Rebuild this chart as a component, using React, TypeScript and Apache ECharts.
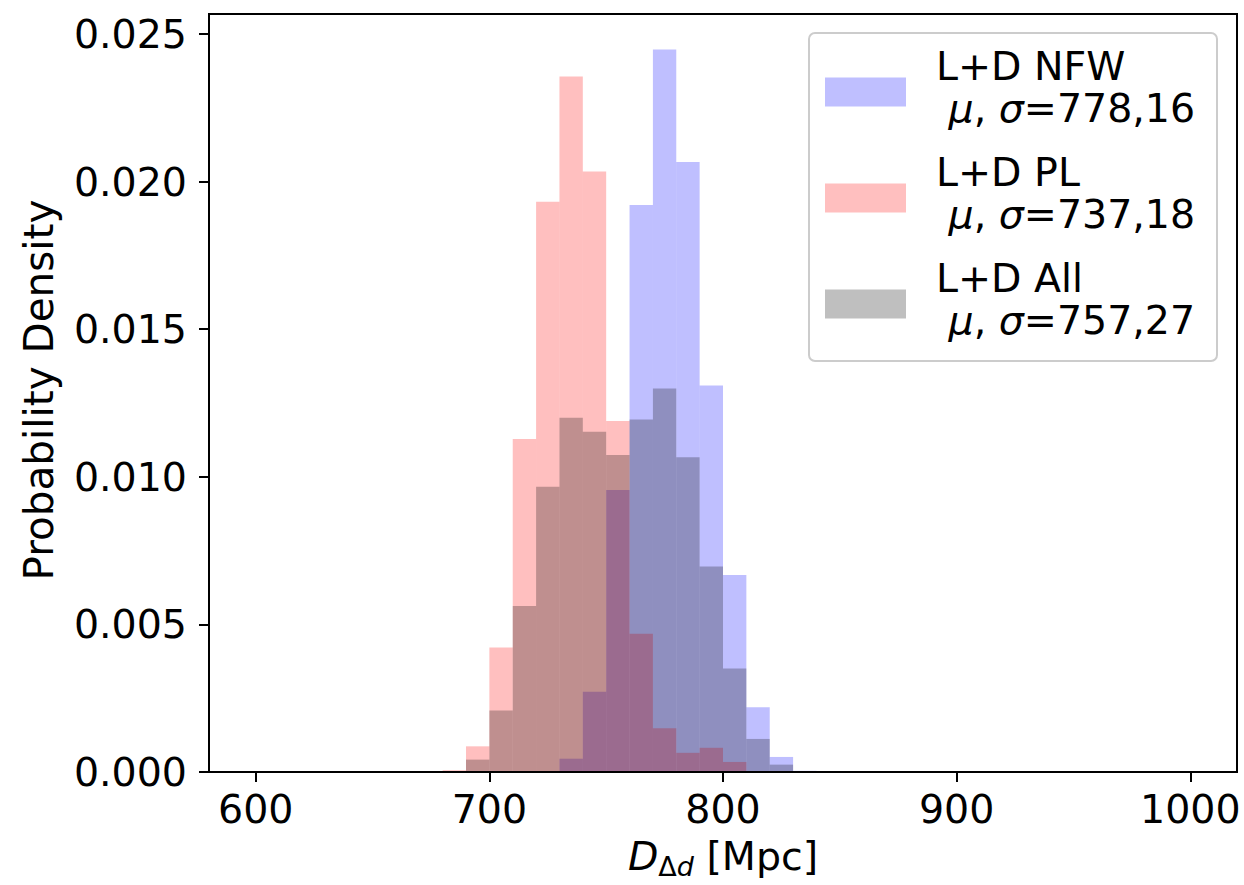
import React, { useEffect, useRef } from "react";
import * as echarts from "echarts";

// Histogram bin edges (Mpc) and normalised densities per model
const binEdges = [680, 690, 700, 710, 720, 730, 740, 750, 760, 770, 780, 790, 800, 810, 820, 830, 840];
const nfwDensity = [0, 0, 0, 0, 0, 0.00045, 0.00272, 0.00955, 0.01921, 0.02448, 0.02067, 0.01309, 0.00667, 0.00219, 0.00051, 0.00004];
const plDensity = [0.00006, 0.00087, 0.00422, 0.01128, 0.01932, 0.02356, 0.02034, 0.01189, 0.00468, 0.00148, 0.00065, 0.00082, 0.00034, 0, 0, 0];
const allDensity = [0.00003, 0.00042, 0.00208, 0.00562, 0.00966, 0.012, 0.01153, 0.01074, 0.01194, 0.01299, 0.01066, 0.00696, 0.00351, 0.00112, 0.00025, 0.00002];

const seriesNames = ["L+D NFW", "L+D PL", "L+D All"];
const seriesStats = ["778,16", "737,18", "757,27"];
const seriesColors = ["rgba(0,0,255,0.25)", "rgba(255,0,0,0.25)", "rgba(0,0,0,0.25)"];

const xTicks = [600, 700, 800, 900, 1000];
const yTicks = [0, 0.005, 0.01, 0.015, 0.02, 0.025];

const FONT = "DejaVu Sans";
const FS = 39.5;

function toBins(values: number[]) {
  return values.map((v, i) => [binEdges[i], binEdges[i + 1], v]);
}

function histSeries(name: string, values: number[], color: string) {
  return {
    type: "custom",
    name,
    itemStyle: { color },
    encode: { x: [0, 1], y: 2 },
    data: toBins(values),
    renderItem: (_params: any, api: any) => {
      const v = api.value(2);
      if (!v) return null;
      const tl = api.coord([api.value(0), v]);
      const br = api.coord([api.value(1), 0]);
      return {
        type: "rect",
        shape: { x: tl[0], y: tl[1], width: br[0] - tl[0], height: br[1] - tl[1] },
        style: { fill: api.visual("color") },
      };
    },
  };
}

export default function App() {
  const ref = useRef<HTMLDivElement>(null);

  useEffect(() => {
    document.body.style.margin = "0";
    if (!ref.current) return;
    const chart = echarts.init(ref.current, null, { renderer: "svg" });

    const legendText: Record<string, string> = {};
    seriesNames.forEach((n, i) => {
      legendText[n] = `${n}\n {it|μ}{rm|, }{it|σ}{rm|=${seriesStats[i]}}`;
    });

    chart.setOption({
      animation: false,
      backgroundColor: "#ffffff",
      grid: {
        left: 209,
        right: 7,
        top: 14,
        bottom: 110,
        show: true,
        borderColor: "#000",
        borderWidth: 2,
        backgroundColor: "transparent",
      },
      xAxis: {
        type: "value",
        min: 580,
        max: 1020,
        z: 10,
        splitLine: { show: false },
        axisLine: { show: true, onZero: false, lineStyle: { color: "#000", width: 2 } },
        axisTick: { show: true, length: 10, lineStyle: { color: "#000", width: 2 }, customValues: xTicks },
        axisLabel: {
          customValues: xTicks,
          margin: 17,
          color: "#000",
          fontFamily: FONT,
          fontSize: FS,
          formatter: (v: number) => String(v),
        },
        name: "{it|D}{sub|Δ}{subit|d}{rm| [Mpc]}",
        nameLocation: "middle",
        nameGap: 60,
        nameTextStyle: {
          color: "#000",
          fontFamily: FONT,
          fontSize: FS,
          rich: {
            it: { fontFamily: FONT, fontSize: FS, fontStyle: "italic", color: "#000" },
            rm: { fontFamily: FONT, fontSize: FS, color: "#000" },
            sub: { fontFamily: FONT, fontSize: 27, color: "#000", padding: [21, 0, 0, 0] },
            subit: { fontFamily: FONT, fontSize: 27, fontStyle: "italic", color: "#000", padding: [21, 0, 0, 0] },
          },
        },
      },
      yAxis: {
        type: "value",
        min: 0,
        max: 0.02568,
        z: 10,
        splitLine: { show: false },
        axisLine: { show: true, onZero: false, lineStyle: { color: "#000", width: 2 } },
        axisTick: { show: true, length: 10, lineStyle: { color: "#000", width: 2 }, customValues: yTicks },
        axisLabel: {
          customValues: yTicks,
          margin: 22,
          color: "#000",
          fontFamily: FONT,
          fontSize: FS,
          formatter: (v: number) => v.toFixed(3),
        },
        name: "Probability Density",
        nameLocation: "middle",
        nameGap: 150,
        nameTextStyle: {
          color: "#000",
          fontFamily: FONT,
          fontSize: 40.5,
          padding: [0, 0, 0, 6],
        },
      },
      legend: {
        orient: "vertical",
        left: 825,
        top: 45,
        padding: 0,
        itemGap: 12,
        itemWidth: 81,
        itemHeight: 29,
        icon: "rect",
        selectedMode: false,
        data: seriesNames,
        formatter: (name: string) => legendText[name],
        textStyle: {
          color: "#000",
          fontFamily: FONT,
          fontSize: FS,
          lineHeight: 42,
          padding: [0, 0, 10, 25],
          rich: {
            it: { fontFamily: FONT, fontSize: FS, fontStyle: "italic", color: "#000", lineHeight: 42 },
            rm: { fontFamily: FONT, fontSize: FS, color: "#000", lineHeight: 42 },
          },
        },
      },
      graphic: [
        {
          type: "rect",
          z: 3,
          shape: { x: 809, y: 33, width: 408, height: 328, r: 6 },
          style: { fill: "rgba(255,255,255,0.8)", stroke: "#cccccc", lineWidth: 2 },
        },
      ],
      series: [
        histSeries(seriesNames[0], nfwDensity, seriesColors[0]),
        histSeries(seriesNames[1], plDensity, seriesColors[1]),
        histSeries(seriesNames[2], allDensity, seriesColors[2]),
      ],
    });

    return () => chart.dispose();
  }, []);

  return <div ref={ref} style={{ width: 1244, height: 885 }} />;
}
